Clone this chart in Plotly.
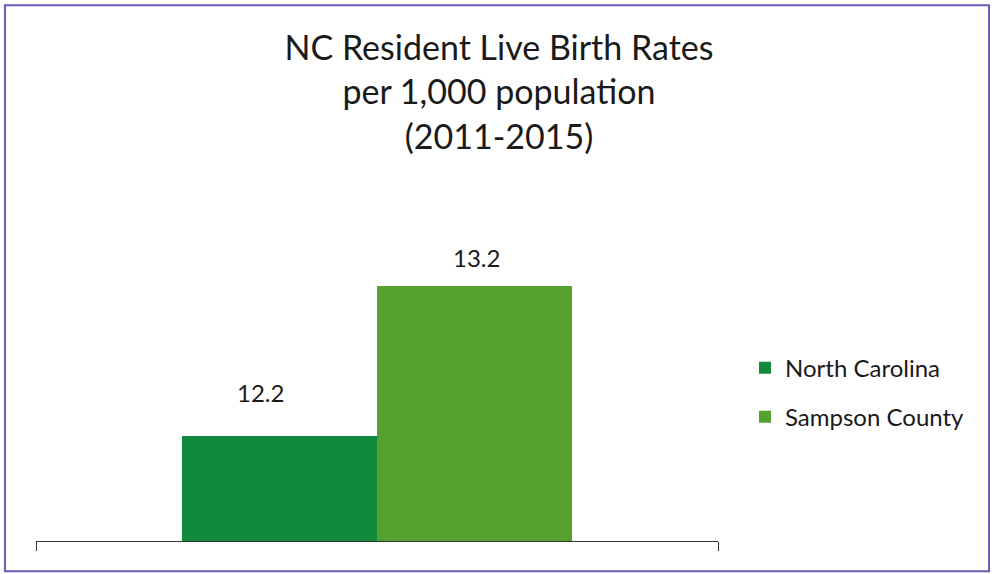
import plotly.graph_objects as go

# data
series = ["North Carolina", "Sampson County"]
rates = [12.2, 13.2]
colors = ["#128a3d", "#55a12f"]
category = ["2011-2015"]

title_lines = ["NC Resident Live Birth Rates", "per 1,000 population", "(2011-2015)"]

fig = go.Figure()
for i, (name, val) in enumerate(zip(series, rates)):
    fig.add_trace(go.Bar(
        x=category, y=[val], name=name,
        marker=dict(color=colors[i], line=dict(width=0)),
        legendgroup=name,
        hoverinfo="skip",
    ))

# value labels above each bar (offsets as placed in the original)
label_shifts = [(-117, 44), (99, 29)]
for val, (dx, dy) in zip(rates, label_shifts):
    fig.add_annotation(
        x=category[0], y=val, xref="x", yref="y",
        text=f"{val:.1f}", showarrow=False,
        xshift=dx, yshift=dy,
        font=dict(size=24, color="#1a1a1a"),
    )

font_name = "Lato, Carlito, 'Noto Sans', sans-serif"

fig.update_layout(
    width=992, height=574,
    margin=dict(l=0, r=0, t=0, b=0),
    paper_bgcolor="white", plot_bgcolor="white",
    font=dict(family=font_name, color="#1a1a1a"),
    barmode="group", bargap=0.428, bargroupgap=0,
    title=dict(
        text="<br>".join(title_lines),
        x=0.503, xanchor="center", y=0.895, yanchor="top",
        font=dict(size=34, family=font_name, color="#1a1a1a"),
    ),
    legend=dict(
        x=0.751, y=0.398, xanchor="left", yanchor="top",
        font=dict(size=24, family=font_name, color="#1a1a1a"),
        itemwidth=30, tracegroupgap=15,
        bgcolor="rgba(0,0,0,0)",
    ),
    showlegend=True,
    xaxis=dict(
        domain=[36 / 992, 718 / 992],
        type="category", range=[-0.5, 0.5],
        showline=True, linecolor="#333333", linewidth=1.2,
        ticks="outside", tickson="boundaries", ticklen=9,
        tickcolor="#333333", tickwidth=1.2,
        showticklabels=False, showgrid=False, zeroline=False,
        fixedrange=True,
    ),
    yaxis=dict(
        domain=[33 / 574, 408 / 574],
        range=[11.5, 14.0],
        visible=False, showgrid=False, zeroline=False,
    ),
    shapes=[dict(
        type="rect", xref="paper", yref="paper",
        x0=0.005, x1=0.997, y0=0.005, y1=0.991,
        line=dict(color="#6a5cbc", width=2),
    )],
)

# drop the browser's default 8px body margin so the figure sits at 0,0
fig.write_html("out.html", config={"displayModeBar": False},
               post_script="document.body.style.margin='0';")
